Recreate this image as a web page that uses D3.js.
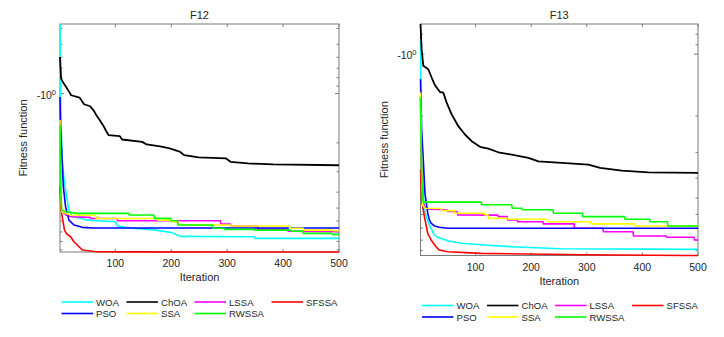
<!DOCTYPE html>
<html>
<head>
<meta charset="utf-8">
<script src="https://cdn.jsdelivr.net/npm/d3@7"></script>
<style>
  body { margin: 0; background: #fff; }
  svg { display: block; font-family: 'Liberation Sans', Arial, sans-serif; }
</style>
</head>
<body>
<svg id="chart" width="724" height="337"></svg>
<script>
// convergence curves, [iteration, best fitness]; plateaus listed by their ends
const woa12 = [[1,-0.376],[2,-0.954],[3,-1.674],[5,-2.55],[8,-3.29],[10,-3.68],[13,-4.29],[17,-5.15],[23,-5.65],[38,-5.78],[50,-5.93],[74,-6.0],[100,-6.05],[104,-6.45],[130,-6.65],[170,-6.8],[200,-7.05],[217,-7.45],[348,-7.49],[350,-7.66],[500,-7.66]]
const choa12 = [[1,-0.598],[2,-0.70],[3,-0.81],[7,-0.86],[12,-0.911],[16,-0.96],[21,-1.024],[36,-1.058],[44,-1.162],[55,-1.195],[62,-1.28],[66,-1.356],[72,-1.45],[78,-1.56],[83,-1.68],[88,-1.796],[108,-1.82],[112,-1.908],[148,-1.973],[156,-2.046],[180,-2.10],[197,-2.164],[215,-2.26],[223,-2.378],[249,-2.455],[298,-2.49],[306,-2.61],[337,-2.67],[382,-2.71],[500,-2.74]]
const lssa12 = [[1,-1.49],[2,-3.5],[3,-5.15],[12,-5.52],[21,-5.65],[55,-5.7],[56,-5.78],[103,-5.8],[104,-5.98],[288,-5.98],[289,-6.27],[306,-6.27],[307,-6.44],[354,-6.44],[355,-6.75],[408,-6.75],[409,-6.92],[500,-6.98]]
const sfssa12 = [[1,-3.74],[3,-5.15],[6,-5.93],[9,-6.82],[13,-7.2],[20,-7.49],[26,-8.03],[35,-8.62],[41,-9.02],[66,-9.24],[120,-9.26],[500,-9.28]]
const pso12 = [[1,-1.05],[2,-1.6],[4,-2.22],[7,-3.71],[11,-4.92],[17,-5.93],[26,-6.35],[41,-6.56],[60,-6.62],[500,-6.62]]
const ssa12 = [[1,-1.45],[2,-3.4],[4,-5.27],[20,-5.52],[65,-5.55],[66,-5.78],[175,-5.8],[176,-5.93],[199,-5.93],[200,-6.07],[214,-6.07],[215,-6.35],[306,-6.35],[307,-6.44],[411,-6.44],[412,-6.65],[436,-6.65],[437,-6.82],[489,-6.82],[490,-6.88],[500,-6.88]]
const rwssa12 = [[1,-1.56],[2,-3.6],[4,-5.15],[11,-5.27],[32,-5.39],[124,-5.39],[125,-5.52],[169,-5.52],[170,-5.78],[199,-5.78],[200,-5.98],[211,-5.98],[212,-6.35],[274,-6.35],[275,-6.65],[294,-6.65],[295,-6.75],[348,-6.75],[349,-6.82],[414,-6.82],[415,-6.92],[435,-6.92],[436,-7.14],[487,-7.14],[488,-7.24],[500,-7.24]]

const woa13 = [[1,-0.845],[2,-1.658],[3,-2.906],[5,-4.07],[8,-5.70],[12,-6.24],[17,-6.75],[26,-7.55],[32,-7.75],[50,-8.05],[74,-8.29],[116,-8.45],[164,-8.61],[254,-8.81],[500,-8.87]]
const choa13 = [[1,-0.714],[3,-0.945],[6,-1.14],[15,-1.184],[21,-1.299],[27,-1.416],[36,-1.527],[42,-1.537],[48,-1.72],[57,-1.962],[69,-2.238],[81,-2.456],[93,-2.648],[108,-2.82],[123,-2.874],[141,-2.996],[165,-3.076],[195,-3.19],[213,-3.316],[255,-3.376],[303,-3.44],[324,-3.57],[363,-3.68],[411,-3.75],[500,-3.776]]
const lssa13 = [[1,-1.6],[3,-3.8],[6,-5.3],[9,-5.50],[15,-5.66],[49,-5.7],[50,-5.81],[67,-5.81],[68,-6.03],[140,-6.05],[141,-6.15],[157,-6.15],[158,-6.38],[175,-6.38],[176,-6.51],[221,-6.51],[222,-6.67],[277,-6.67],[278,-7.0],[329,-7.0],[330,-7.28],[383,-7.28],[384,-7.64],[443,-7.64],[444,-7.75],[493,-7.75],[494,-7.99],[500,-7.99]]
const sfssa13 = [[1,-3.64],[3,-5.10],[8,-6.15],[14,-7.41],[20,-7.99],[29,-8.61],[35,-8.94],[50,-9.11],[110,-9.28],[296,-9.42],[476,-9.5],[500,-9.5]]
const pso13 = [[1,-1.324],[3,-2.32],[6,-3.25],[9,-4.73],[14,-5.92],[17,-6.38],[20,-6.62],[26,-6.83],[35,-6.93],[50,-7.0],[500,-7.0]]
const ssa13 = [[1,-1.537],[3,-3.6],[5,-5.4],[9,-5.60],[38,-5.62],[39,-5.75],[62,-5.75],[63,-5.92],[116,-5.92],[117,-6.03],[122,-6.03],[123,-6.26],[158,-6.26],[159,-6.33],[229,-6.33],[230,-6.51],[307,-6.51],[308,-6.67],[386,-6.67],[387,-6.83],[500,-6.83]]
const rwssa13 = [[1,-1.626],[3,-3.9],[6,-5.23],[110,-5.23],[111,-5.39],[165,-5.39],[166,-5.60],[183,-5.60],[184,-5.70],[239,-5.70],[240,-5.92],[292,-5.92],[293,-6.15],[368,-6.15],[369,-6.33],[413,-6.33],[414,-6.51],[445,-6.51],[446,-6.83],[500,-6.83]]

const algorithms = ['WOA', 'ChOA', 'LSSA', 'SFSSA', 'PSO', 'SSA', 'RWSSA']
const colors = ['#00ffff', '#000000', '#ff00ff', '#ff0000', '#0000ff', '#ffff00', '#00ff00']
const xTicks = [100, 200, 300, 400, 500]
const yMajor = [-1]

const panels = [
    {title: 'F12', series: [woa12, choa12, lssa12, sfssa12, pso12, ssa12, rwssa12],
     left: 60, right: 339, top: 24, bottom: 252},
    {title: 'F13', series: [woa13, choa13, lssa13, sfssa13, pso13, ssa13, rwssa13],
     left: 420.5, right: 698, top: 24, bottom: 255.5}
]

const svg = d3.select('#chart')
const AXIS = '#7a7a7a'
const TEXT = '#262626'

function drawPanel(p) {
    const g = svg.append('g')
    const x = d3.scaleLinear().domain([1, 500]).range([p.left, p.right])
    const all = p.series.flat().map(d => -d[1])
    const y = d3.scaleLog().domain(d3.extent(all)).range([p.top, p.bottom])

    // box
    g.append('rect')
        .attr('x', p.left).attr('y', p.top)
        .attr('width', p.right - p.left).attr('height', p.bottom - p.top)
        .attr('fill', 'none').attr('stroke', AXIS).attr('stroke-width', 1)

    // x ticks, bottom and top
    xTicks.forEach(t => {
        const xp = x(t)
        g.append('line').attr('x1', xp).attr('x2', xp).attr('y1', p.bottom).attr('y2', p.bottom - 3)
            .attr('stroke', AXIS)
        g.append('line').attr('x1', xp).attr('x2', xp).attr('y1', p.top).attr('y2', p.top + 3)
            .attr('stroke', AXIS)
        g.append('text').attr('x', xp).attr('y', p.bottom + 15)
            .attr('text-anchor', 'middle').attr('font-size', 10.5).attr('fill', TEXT)
            .text(t)
    })

    // y ticks: log minor ticks on both sides
    y.ticks().forEach(t => {
        const yp = y(t)
        const major = yMajor.includes(-t)
        const len = major ? 4 : 2.5
        g.append('line').attr('x1', p.left).attr('x2', p.left + len).attr('y1', yp).attr('y2', yp)
            .attr('stroke', AXIS)
        g.append('line').attr('x1', p.right).attr('x2', p.right - len).attr('y1', yp).attr('y2', yp)
            .attr('stroke', AXIS)
    })
    yMajor.forEach(v => {
        const label = g.append('text').attr('x', p.left - 4).attr('y', y(-v) + 5)
            .attr('text-anchor', 'end').attr('font-size', 10.5).attr('fill', TEXT)
        label.append('tspan').text('-10')
        label.append('tspan').attr('dy', -4).attr('font-size', 7.5).text(Math.round(Math.log10(-v)))
    })

    // curves
    const line = d3.line()
        .x(d => x(d[0]))
        .y(d => y(-d[1]))
    p.series.forEach((s, i) => {
        g.append('path')
            .datum(s)
            .attr('d', line)
            .attr('fill', 'none')
            .attr('stroke', colors[i])
            .attr('stroke-width', i === 1 ? 1.8 : 1.6)
            .attr('stroke-linejoin', 'round')
    })

    const cx = (p.left + p.right) / 2
    g.append('text').attr('x', cx).attr('y', p.top - 5)
        .attr('text-anchor', 'middle').attr('font-size', 11).attr('fill', TEXT).text(p.title)
    g.append('text').attr('x', cx).attr('y', p.bottom + 29)
        .attr('text-anchor', 'middle').attr('font-size', 11).attr('fill', TEXT).text('Iteration')
    g.append('text')
        .attr('transform', `translate(${p.left - 33},${(p.top + p.bottom) / 2}) rotate(-90)`)
        .attr('text-anchor', 'middle').attr('font-size', 11).attr('fill', TEXT).text('Fitness function')

    // legend, 4 columns
    const colX = [0, 65, 133, 210]
    const lx = p.left + 1.5
    const ly = p.bottom + 50
    algorithms.forEach((name, i) => {
        const cxl = lx + colX[i % 4]
        const cyl = ly + Math.floor(i / 4) * 11.5
        g.append('line').attr('x1', cxl).attr('x2', cxl + 31.5).attr('y1', cyl).attr('y2', cyl)
            .attr('stroke', colors[i]).attr('stroke-width', 1.6)
        g.append('text').attr('x', cxl + 34.5).attr('y', cyl + 3.5)
            .attr('font-size', 9.6).attr('fill', TEXT).text(name)
    })
}

panels.forEach(drawPanel)
</script>
</body>
</html>
